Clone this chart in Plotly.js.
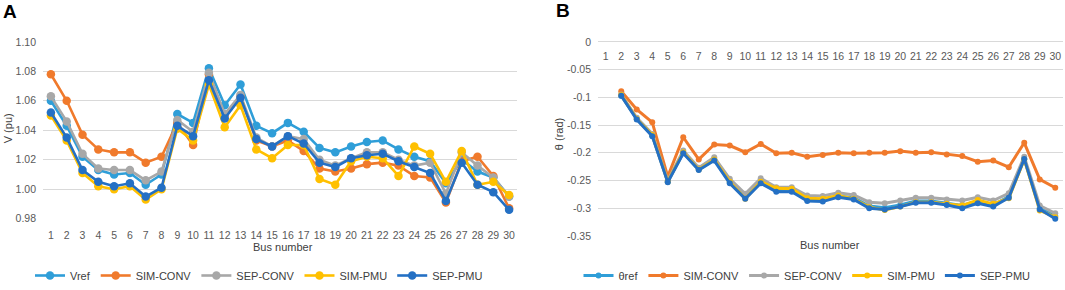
<!DOCTYPE html>
<html>
<head>
<meta charset="utf-8">
<script src="https://cdn.plot.ly/plotly-3.0.1.min.js"></script>
<style>
html,body{margin:0;padding:0;background:#fff;}
#chart{width:1065px;height:290px;}
</style>
</head>
<body>
<div id="chart"></div>
<script>
// ---------- data ----------
const buses = Array.from({length: 30}, (_, i) => i + 1);
const busLabels = buses.map(String);

// Panel A: bus voltage magnitude (pu)
const vRef    = [1.060,1.043,1.022,1.013,1.010,1.011,1.003,1.010,1.051,1.045,1.082,1.057,1.071,1.043,1.038,1.045,1.039,1.028,1.025,1.029,1.032,1.033,1.027,1.022,1.019,1.004,1.020,1.012,1.008,0.995];
const vSimConv= [1.078,1.060,1.037,1.027,1.025,1.025,1.018,1.022,1.045,1.030,1.078,1.050,1.063,1.033,1.029,1.033,1.026,1.014,1.012,1.014,1.017,1.018,1.016,1.009,1.008,0.991,1.019,1.022,1.009,0.987];
const vSepConv= [1.063,1.046,1.024,1.014,1.013,1.013,1.006,1.012,1.047,1.039,1.079,1.051,1.064,1.035,1.029,1.036,1.034,1.020,1.016,1.021,1.025,1.025,1.020,1.016,1.018,0.997,1.025,1.016,1.008,0.995];
const vSimPmu = [1.050,1.033,1.011,1.002,1.000,1.002,0.993,1.000,1.041,1.033,1.071,1.042,1.057,1.027,1.021,1.030,1.030,1.007,1.003,1.019,1.022,1.021,1.009,1.029,1.024,1.005,1.026,1.003,1.005,0.996];
const vSepPmu = [1.052,1.035,1.013,1.005,1.002,1.004,0.995,1.001,1.043,1.036,1.074,1.048,1.062,1.034,1.029,1.036,1.031,1.018,1.015,1.021,1.023,1.024,1.019,1.015,1.011,0.992,1.018,1.003,0.998,0.986];

// Panel B: bus voltage angle (rad); bus 1 is the reference, no point drawn
const tRef    = [null,-0.097,-0.139,-0.169,-0.252,-0.200,-0.230,-0.212,-0.253,-0.281,-0.253,-0.267,-0.267,-0.284,-0.285,-0.278,-0.281,-0.296,-0.299,-0.294,-0.287,-0.287,-0.291,-0.295,-0.287,-0.294,-0.279,-0.211,-0.300,-0.314];
const tSimConv= [null,-0.089,-0.122,-0.145,-0.243,-0.172,-0.212,-0.185,-0.187,-0.199,-0.184,-0.201,-0.200,-0.207,-0.204,-0.200,-0.201,-0.200,-0.200,-0.197,-0.200,-0.199,-0.203,-0.206,-0.216,-0.214,-0.226,-0.182,-0.248,-0.263];
const tSepConv= [null,-0.095,-0.137,-0.166,-0.250,-0.196,-0.227,-0.208,-0.247,-0.274,-0.246,-0.262,-0.262,-0.277,-0.278,-0.272,-0.276,-0.289,-0.291,-0.286,-0.281,-0.281,-0.284,-0.286,-0.280,-0.286,-0.273,-0.207,-0.295,-0.309];
const tSimPmu = [null,-0.096,-0.139,-0.168,-0.252,-0.199,-0.230,-0.212,-0.252,-0.283,-0.252,-0.264,-0.265,-0.282,-0.283,-0.277,-0.283,-0.298,-0.303,-0.297,-0.289,-0.289,-0.292,-0.295,-0.285,-0.292,-0.282,-0.212,-0.304,-0.316];
const tSepPmu = [null,-0.097,-0.140,-0.170,-0.253,-0.201,-0.231,-0.214,-0.255,-0.283,-0.255,-0.270,-0.270,-0.287,-0.288,-0.280,-0.284,-0.300,-0.302,-0.297,-0.290,-0.290,-0.294,-0.300,-0.291,-0.297,-0.281,-0.211,-0.302,-0.319];

const namesA = ['Vref','SIM-CONV','SEP-CONV','SIM-PMU','SEP-PMU'];
const namesB = ['θref','SIM-CONV','SEP-CONV','SIM-PMU','SEP-PMU'];
const voltSeries = [vRef, vSimConv, vSepConv, vSimPmu, vSepPmu];
const angleSeries = [tRef, tSimConv, tSepConv, tSimPmu, tSepPmu];
const vTicks = [0.98,1.00,1.02,1.04,1.06,1.08,1.10];
const vTickText = ['0.98','1.00','1.02','1.04','1.06','1.08','1.10'];
const tTicks = [0,-0.05,-0.1,-0.15,-0.2,-0.25,-0.3,-0.35];
const tTickText = ['0','-0.05','-0.1','-0.15','-0.2','-0.25','-0.3','-0.35'];

// ---------- styling ----------
const colors = ['#2f9ed8','#f07a2c','#a8a8a8','#ffc000','#2470c4'];
const W = 1065, H = 290;
const px = v => v / W, py = v => 1 - v / H;
const FONT = 'Liberation Sans, Arial, sans-serif';
const tickColor = '#595959';

const traces = [];
voltSeries.forEach((ys, i) => {
  traces.push({
    x: buses, y: ys, name: namesA[i], type: 'scatter', mode: 'lines+markers',
    xaxis: 'x', yaxis: 'y', legend: 'legend',
    line: {color: colors[i], width: 2.6},
    marker: {color: colors[i], size: 8.5},
    hoverinfo: 'skip'
  });
});
angleSeries.forEach((ys, i) => {
  traces.push({
    x: buses, y: ys, name: namesB[i], type: 'scatter', mode: 'lines+markers',
    xaxis: 'x2', yaxis: 'y2', legend: 'legend2',
    line: {color: colors[i], width: 3},
    marker: {color: colors[i], size: 6},
    hoverinfo: 'skip'
  });
});

const gridColor = '#d9d9d9';
const layout = {
  width: W, height: H,
  margin: {l: 0, r: 0, t: 0, b: 0},
  paper_bgcolor: '#fff', plot_bgcolor: '#fff',
  font: {family: FONT, size: 11, color: tickColor},
  showlegend: true,
  xaxis: {
    domain: [px(43), px(517)], anchor: 'y', range: [0.5, 30.5],
    tickvals: buses, ticktext: busLabels, ticks: '', showgrid: false, zeroline: false,
    showline: false, tickfont: {size: 10.5, color: tickColor}, ticklabelstandoff: 9
  },
  yaxis: {
    domain: [py(223.3), py(42.7)], anchor: 'x', range: [0.98, 1.10],
    tickvals: vTicks, ticktext: vTickText, ticks: '', showgrid: true, gridcolor: gridColor,
    gridwidth: 1, zeroline: false, showline: false,
    tickfont: {size: 10.5, color: tickColor}, ticklabelstandoff: 6
  },
  xaxis2: {
    domain: [px(598), px(1063)], anchor: 'free', position: py(42.7), side: 'bottom',
    range: [0.5, 30.5], tickvals: buses, ticktext: busLabels, ticks: '', showgrid: false,
    zeroline: false, showline: false, tickfont: {size: 10.5, color: tickColor}, ticklabelstandoff: 7
  },
  yaxis2: {
    domain: [py(241), py(42.7)], anchor: 'x2', range: [-0.35, 0],
    tickvals: tTicks, ticktext: tTickText, ticks: '', showgrid: true, gridcolor: gridColor,
    gridwidth: 1, zeroline: true, zerolinecolor: gridColor, zerolinewidth: 1, showline: false,
    tickfont: {size: 10.5, color: tickColor}, ticklabelstandoff: 6
  },
  legend: {
    orientation: 'h', x: px(259), xanchor: 'center', y: py(281.5), yanchor: 'middle',
    font: {size: 11, color: '#404040'}, bgcolor: 'rgba(0,0,0,0)', itemwidth: 30,
    tracegroupgap: 0
  },
  legend2: {
    orientation: 'h', x: px(807), xanchor: 'center', y: py(281.5), yanchor: 'middle',
    font: {size: 11, color: '#404040'}, bgcolor: 'rgba(0,0,0,0)', itemwidth: 30,
    tracegroupgap: 0
  },
  annotations: [
    {text: '<b>A</b>', xref: 'paper', yref: 'paper', x: px(1), y: py(12), xanchor: 'left', yanchor: 'middle',
     showarrow: false, font: {size: 19, color: '#000', family: FONT}},
    {text: '<b>B</b>', xref: 'paper', yref: 'paper', x: px(554), y: py(11), xanchor: 'left', yanchor: 'middle',
     showarrow: false, font: {size: 19, color: '#000', family: FONT}},
    {text: 'V (pu)', xref: 'paper', yref: 'paper', x: px(8), y: py(131), xanchor: 'center', yanchor: 'middle',
     textangle: -90, showarrow: false, font: {size: 11, color: '#404040', family: FONT}},
    {text: 'θ (rad)', xref: 'paper', yref: 'paper', x: px(559), y: py(137), xanchor: 'center', yanchor: 'middle',
     textangle: -90, showarrow: false, font: {size: 11, color: '#404040', family: FONT}},
    {text: 'Bus number', xref: 'paper', yref: 'paper', x: px(283), y: py(252), xanchor: 'center', yanchor: 'middle',
     showarrow: false, font: {size: 11, color: '#404040', family: FONT}},
    {text: 'Bus number', xref: 'paper', yref: 'paper', x: px(830), y: py(250), xanchor: 'center', yanchor: 'middle',
     showarrow: false, font: {size: 11, color: '#404040', family: FONT}}
  ]
};

Plotly.newPlot('chart', traces, layout, {staticPlot: true, displayModeBar: false});
</script>
</body>
</html>
